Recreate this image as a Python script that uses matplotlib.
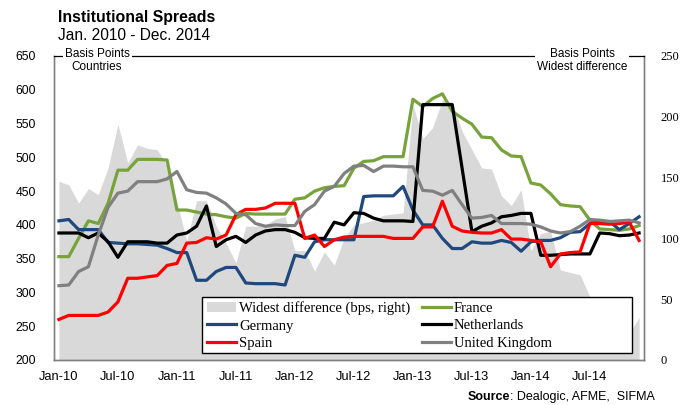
import matplotlib
matplotlib.use("Agg")
import matplotlib.pyplot as plt
from matplotlib.patches import Rectangle
from matplotlib.font_manager import FontProperties

# monthly values, Jan-10 .. Dec-14 (basis points)
months = list(range(60))
tick_pos = [0, 6, 12, 18, 24, 30, 36, 42, 48, 54]
tick_labels = ["Jan-10", "Jul-10", "Jan-11", "Jul-11", "Jan-12", "Jul-12",
               "Jan-13", "Jul-13", "Jan-14", "Jul-14"]

france = [353, 353, 380, 406, 402, 432, 481, 481, 497, 497, 497, 496,
          422, 422, 419, 416, 415, 412, 410, 417, 416, 416, 416, 416,
          438, 440, 450, 455, 457, 458, 484, 494, 495, 501, 501, 501,
          586, 575, 587, 594, 568, 558, 549, 530, 529, 511, 502, 501,
          462, 459, 446, 430, 428, 427, 407, 394, 393, 392, 394, 399]
germany = [406, 408, 393, 393, 393, 374, 373, 372, 372, 371, 370, 365,
           359, 359, 318, 318, 331, 337, 337, 314, 313, 313, 313, 311,
           355, 352, 375, 378, 378, 378, 378, 442, 443, 443, 443, 457,
           422, 400, 400, 380, 365, 365, 375, 373, 373, 377, 374, 361,
           375, 377, 377, 381, 389, 390, 402, 405, 405, 393, 402, 412]
netherlands = [388, 388, 388, 381, 388, 375, 352, 375, 375, 375, 373, 373,
               385, 388, 398, 428, 368, 378, 383, 374, 385, 391, 393, 393,
               389, 381, 380, 380, 404, 400, 418, 417, 410, 406, 406, 406,
               405, 578, 578, 578, 578, 484, 390, 398, 403, 412, 414, 417,
               417, 355, 355, 356, 357, 357, 357, 388, 387, 384, 385, 388]
spain = [260, 266, 266, 266, 266, 271, 286, 321, 321, 323, 325, 340,
         343, 373, 374, 381, 379, 385, 415, 423, 423, 425, 432, 432,
         432, 380, 385, 368, 378, 382, 383, 383, 383, 383, 380, 380,
         380, 397, 397, 435, 398, 391, 389, 388, 388, 393, 379, 379,
         377, 375, 338, 357, 359, 360, 402, 402, 401, 402, 404, 377]
uk = [310, 311, 331, 338, 385, 426, 447, 450, 464, 464, 464, 468,
      479, 452, 448, 447, 440, 431, 417, 415, 402, 398, 400, 399,
      399, 420, 430, 450, 457, 476, 487, 488, 479, 487, 487, 486,
      486, 451, 450, 444, 451, 430, 410, 411, 414, 402, 402, 402,
      401, 397, 391, 388, 390, 398, 408, 407, 405, 406, 407, 403]
widest = [147, 144, 129, 141, 136, 158, 194, 162, 177, 174, 173, 160,
          130, 98, 131, 131, 110, 96, 80, 110, 110, 111, 116, 118,
          90, 90, 73, 89, 78, 100, 111, 113, 115, 119, 120, 121,
          210, 182, 191, 214, 212, 188, 173, 158, 157, 135, 127, 140,
          90, 104, 106, 74, 72, 70, 52, 20, 19, 22, 22, 35]

sans = "Liberation Sans"
serif = "Liberation Serif"
plt.rcParams["font.family"] = sans

fig = plt.figure(figsize=(6.92, 4.05), dpi=100)
ax = fig.add_axes([54 / 692, 1 - 360 / 405, 590 / 692, 304 / 405])
ax2 = ax.twinx()
ax.set_zorder(2)
ax.patch.set_visible(False)

ax2.fill_between(months, widest, 0, color="#D9D9D9", lw=0,
                 label="Widest difference (bps, right)")
ax2.set_ylim(0, 250)
ax2.set_yticks(range(0, 251, 50))
for lab in ax2.get_yticklabels():
    lab.set_fontproperties(FontProperties(family=serif, size=9))

lw = 2.3
l_fr, = ax.plot(months, france, color="#77A33A", lw=lw, label="France")
l_de, = ax.plot(months, germany, color="#1F497D", lw=lw, label="Germany")
l_nl, = ax.plot(months, netherlands, color="black", lw=lw, label="Netherlands")
l_es, = ax.plot(months, spain, color="#FF0000", lw=lw, label="Spain")
l_uk, = ax.plot(months, uk, color="#808080", lw=lw, label="United Kingdom")

ax.set_xlim(-0.5, 59.5)
ax.set_ylim(200, 650)
ax.set_yticks(range(200, 651, 50))
ax.set_xticks(tick_pos)
ax.set_xticklabels(tick_labels)
ax.tick_params(axis="y", length=0, pad=13, labelsize=8.8)
ax.tick_params(axis="x", length=0, pad=8, labelsize=9.3)
ax2.tick_params(axis="y", length=0, pad=12)

for a in (ax, ax2):
    for s in ("left", "bottom", "right"):
        a.spines[s].set_color("#808080")
        a.spines[s].set_linewidth(1.0)
ax.spines["top"].set_color("black")
ax.spines["top"].set_linewidth(0.9)
ax2.spines["top"].set_visible(False)

ax.text(0.073, 1.025, "Basis Points\nCountries", transform=ax.transAxes,
        ha="center", va="top", fontsize=8.5, linespacing=1.05,
        bbox=dict(facecolor="white", edgecolor="none", pad=1.5), zorder=5)
ax.text(0.895, 1.025, "Basis Points\nWidest difference", transform=ax.transAxes,
        ha="center", va="top", fontsize=8.5, linespacing=1.05,
        bbox=dict(facecolor="white", edgecolor="none", pad=1.5), zorder=5)

# legend box drawn separately so the two columns stay packed to the left
ax.add_patch(Rectangle((0.251, 0.023), 0.729, 0.184, transform=ax.transAxes,
                       facecolor="white", edgecolor="black", lw=1.0,
                       zorder=4, clip_on=False))
area_handle = ax2.collections[0]
handles = [area_handle, l_de, l_es, l_fr, l_nl, l_uk]
labels = [h.get_label() for h in handles]
leg = ax.legend(handles, labels, ncol=2, loc="upper left",
                bbox_to_anchor=(207 / 692, 1 - 301 / 405),
                bbox_transform=fig.transFigure, frameon=False,
                borderaxespad=0, borderpad=0,
                prop=FontProperties(family=serif, size=10.5),
                handlelength=2.0, handletextpad=0.2, labelspacing=0.3,
                columnspacing=0.8)
leg.set_zorder(6)

fig.text(58 / 692, 1 - 10 / 405, "Institutional Spreads", fontsize=11.4,
         weight="bold", va="top")
fig.text(58 / 692, 1 - 28 / 405, "Jan. 2010 - Dec. 2014", fontsize=11.2,
         va="top")

src = fig.text(655 / 692, 0.012, ": Dealogic, AFME,  SIFMA", ha="right",
               fontsize=9)
fig.canvas.draw()
bb = src.get_window_extent()
fig.text(bb.x0 / fig.bbox.width, 0.012, "Source", ha="right", fontsize=9,
         weight="bold")

fig.savefig("out.png", dpi=100)
